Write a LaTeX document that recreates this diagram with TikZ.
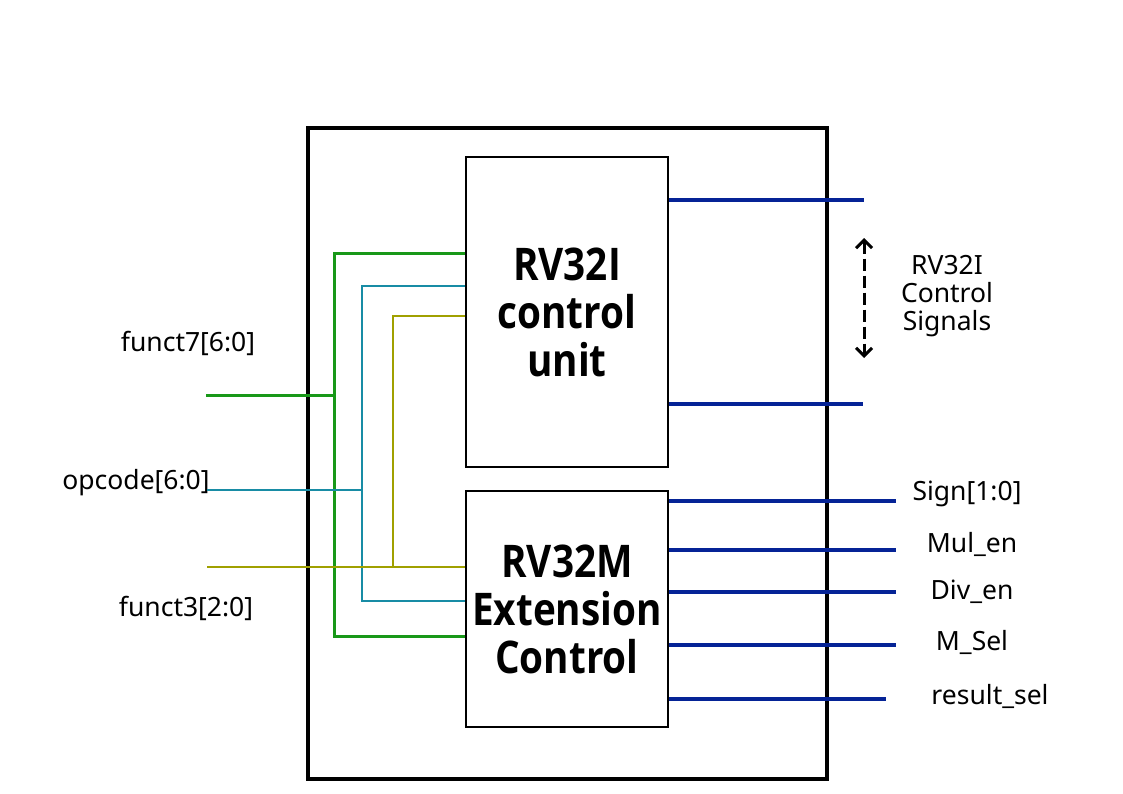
\documentclass[tikz,border=0pt]{standalone}
\usepackage{fontspec}
\setmainfont{Noto Sans}
\newfontfamily\titlefont[FakeStretch=0.86]{Open Sans}
\usetikzlibrary{arrows.meta}
\definecolor{wgreen}{RGB}{24,152,24}
\definecolor{wteal}{RGB}{24,140,165}
\definecolor{wolive}{RGB}{160,160,0}
\definecolor{wblue}{RGB}{5,35,150}
\begin{document}
\begin{tikzpicture}[x=1pt,y=-1pt,
  outerbox/.style={draw=black,line width=4.5pt,minimum width=519pt,minimum height=651pt,inner sep=0pt},
  block/.style={draw=black,line width=2pt,minimum width=202pt,inner sep=0pt,fill=white,align=center,
    font=\titlefont\bfseries\fontsize{45}{48}\selectfont},
  lbl/.style={font=\fontsize{26.5}{28}\selectfont,inner sep=0pt,align=center},
  gw/.style={draw=wgreen,line width=3pt},
  tw/.style={draw=wteal,line width=2.8pt},
  ow/.style={draw=wolive,line width=2.8pt},
  bw/.style={draw=wblue,line width=3.4pt}]
\useasboundingbox (0,0) rectangle (1123,794);
\node[outerbox] (outer) at (567.5,453.5) {};
\node[block,minimum height=310pt] (cu) at (567,312) {RV32I\\control\\unit};
\node[block,minimum height=236pt] (ext) at (567,609) {RV32M\\Extension\\Control};
% input labels
\node[lbl] (lf7) at (188,343) {funct7[6:0]};
\node[lbl] (lop) at (136,483) {opcode[6:0]};
\node[lbl] (lf3) at (186,608) {funct3[2:0]};
% input coordinates
\coordinate (f7in) at (206,395);
\coordinate (opin) at (207,490);
\coordinate (f3in) at (207,567);
\coordinate (gt) at (334,253);
\coordinate (gb) at (334,636);
\coordinate (tt) at (362,286);
\coordinate (tb) at (362,601);
\coordinate (ot) at (393,316);
% green
\draw[gw] (f7in) -- (gt |- f7in);
\draw[gw] (cu.west |- gt) -- (gt) -- (gb) -- (ext.west |- gb);
% teal
\draw[tw] (opin) -- (tt |- opin);
\draw[tw] (cu.west |- tt) -- (tt) -- (tb) -- (ext.west |- tb);
% olive
\draw[ow] (f3in) -- (ext.west |- f3in);
\draw[ow] (cu.west |- ot) -- (ot) -- (ot |- f3in);
% outputs
\coordinate (o1) at (864,200);
\coordinate (o2) at (863,404);
\coordinate (s1) at (896,501);
\coordinate (s2) at (896,550);
\coordinate (s3) at (896,592);
\coordinate (s4) at (896,645);
\coordinate (s5) at (886,699);
\draw[bw] (cu.east |- o1) -- (o1);
\draw[bw] (cu.east |- o2) -- (o2);
\draw[bw] (ext.east |- s1) -- (s1);
\draw[bw] (ext.east |- s2) -- (s2);
\draw[bw] (ext.east |- s3) -- (s3);
\draw[bw] (ext.east |- s4) -- (s4);
\draw[bw] (ext.east |- s5) -- (s5);
% dashed arrow
\coordinate (at) at (864,238);
\coordinate (ab) at (864,358);
\draw[line width=3pt,dash pattern=on 12pt off 5pt,{Straight Barb[length=8pt,width=16pt]}-{Straight Barb[length=8pt,width=16pt]}] (at) -- (ab);
% output labels
\node[lbl] (lsig) at (947,296) {RV32I\\Control\\Signals};
\node[lbl] (l1) at (967,494) {Sign[1:0]};
\node[lbl] (l2) at (972,544) {Mul\_en};
\node[lbl] (l3) at (972,592) {Div\_en};
\node[lbl] (l4) at (972,642) {M\_Sel};
\node[lbl] (l5) at (990,696) {result\_sel};
\end{tikzpicture}
\end{document}
